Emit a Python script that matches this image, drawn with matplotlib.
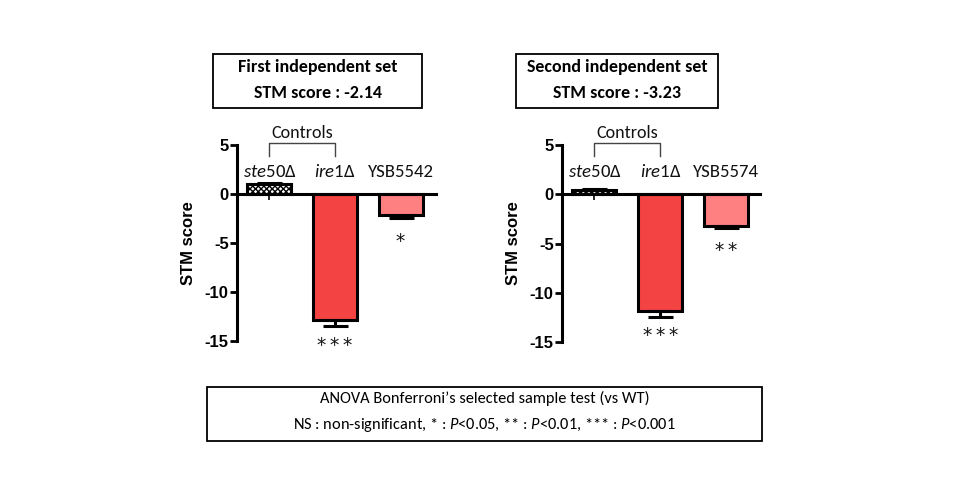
import matplotlib
matplotlib.use("Agg")
import matplotlib.pyplot as plt
from matplotlib import font_manager as fm
from matplotlib.patches import Rectangle

# ---------------- data ----------------
strains_set1 = ["ste50Δ", "ire1Δ", "YSB5542"]
strains_set2 = ["ste50Δ", "ire1Δ", "YSB5574"]
scores_set1 = [1.0, -12.85, -2.14]
scores_set2 = [0.45, -11.85, -3.23]
errors_set1 = [0.12, 0.65, 0.35]
errors_set2 = [0.10, 0.60, 0.22]
stars_set1 = ["", "***", "*"]
stars_set2 = ["", "***", "**"]
yticks = [5, 0, -5, -10, -15]
title_set1 = ["First independent set", "STM score : -2.14"]
title_set2 = ["Second independent set", "STM score : -3.23"]
controls_label = "Controls"
footnote_line1 = "ANOVA Bonferroni\u2019s selected sample test (vs WT)"
footnote_line2 = r"NS : non-significant, * : $\mathit{P}$<0.05, ** : $\mathit{P}$<0.01, *** : $\mathit{P}$<0.001"

# ---------------- fonts ----------------
names = {f.name for f in fm.fontManager.ttflist}
calib = next(n for n in ["Carlito", "Lato", "Open Sans", "DejaVu Sans"] if n in names)
arial = next(n for n in ["Liberation Sans", "Arial", "DejaVu Sans"] if n in names)
plt.rcParams["font.family"] = [calib, "DejaVu Sans"]
plt.rcParams["mathtext.fontset"] = "custom"
plt.rcParams["mathtext.rm"] = calib
plt.rcParams["mathtext.it"] = calib + ":italic"
plt.rcParams["mathtext.bf"] = calib + ":bold"
plt.rcParams["hatch.linewidth"] = 1.0

W, H = 960, 500
fig = plt.figure(figsize=(W / 100, H / 100), dpi=100)
fig.patch.set_facecolor("white")

colors = ["white", "#F44343", "#FF8080"]
star_gap_pt = [0, 6.8, 9.5]


def draw_panel(rect, xlim, strains, scores, errors, stars):
    ax = fig.add_axes(rect)
    ax.set_facecolor("none")
    x = list(range(len(scores)))
    bars = ax.bar(x, scores, width=0.67, color=colors, edgecolor="black",
                  linewidth=2.2, zorder=2)
    bars[0].set_hatch("xxxxxx")
    for xi, s, e in zip(x, scores, errors):
        up = s >= 0
        ax.errorbar([xi], [s], yerr=[[0 if up else e], [e if up else 0]],
                    fmt="none", ecolor="black", elinewidth=2.2, capsize=9,
                    capthick=2.2, zorder=3)
    ax.set_xlim(*xlim)
    ax.set_ylim(-15, 5)
    ax.set_yticks(yticks)
    ax.set_yticklabels([str(t) for t in yticks], fontfamily=arial,
                       fontweight="bold", fontsize=12)
    ax.set_xticks(x)
    ax.set_xticklabels([])
    ax.tick_params(axis="y", direction="out", length=5, width=2, pad=1)
    ax.tick_params(axis="x", direction="out", length=4, width=1.2)
    for sp in ["top", "right"]:
        ax.spines[sp].set_visible(False)
    ax.spines["left"].set_linewidth(2.2)
    ax.spines["bottom"].set_linewidth(2.2)
    ax.spines["bottom"].set_position(("data", 0))
    ax.set_ylabel("STM score", fontfamily=arial, fontweight="bold",
                  fontsize=12, labelpad=6)
    for xi, name in zip(x, strains):
        if name.endswith("Δ"):
            lab = r"$\mathit{" + name[:-1] + "}$Δ"
        else:
            lab = name
        ax.text(xi, 1.75, lab, ha="center", va="baseline", fontsize=13.5,
                color="#111111", zorder=4)
    for xi, s, e, st, gap in zip(x, scores, errors, stars, star_gap_pt):
        if st:
            ax.annotate("\u2009".join(st), xy=(xi, s - e), xytext=(0, -gap),
                        textcoords="offset points", ha="center", va="top",
                        fontsize=13.5, fontfamily="DejaVu Sans",
                        color="#111111", annotation_clip=False)
    ax.plot([0, 0, 1, 1], [3.9, 5.2, 5.2, 3.9], color="#444444", lw=1.0,
            clip_on=False, zorder=4)
    ax.text(0.5, 5.4, controls_label, ha="center", va="bottom",
            fontsize=13, color="#111111")
    return ax


draw_panel([237 / W, 159 / H, 199 / W, 196 / H], (-0.495, 2.54),
           strains_set1, scores_set1, errors_set1, stars_set1)
draw_panel([562 / W, 158 / H, 198 / W, 197 / H], (-0.49, 2.51),
           strains_set2, scores_set2, errors_set2, stars_set2)


def box(x0, y0, x1, y1, lw=1.3):
    r = Rectangle((x0 / W, (H - y1) / H), (x1 - x0) / W, (y1 - y0) / H,
                  transform=fig.transFigure, fill=False, edgecolor="black",
                  linewidth=lw)
    fig.add_artist(r)


box(213, 54, 422, 108)
box(516, 54, 718, 108)
for cx, lines in [(317.5, title_set1), (617, title_set2)]:
    fig.text(cx / W, (H - 72) / H, lines[0], ha="center", va="baseline",
             fontsize=13, fontweight="bold")
    fig.text(cx / W, (H - 98) / H, lines[1], ha="center", va="baseline",
             fontsize=13, fontweight="bold")

box(207, 387, 762, 441)
fig.text(484.5 / W, (H - 403.5) / H, footnote_line1, ha="center",
         va="baseline", fontsize=11.8)
fig.text(484.5 / W, (H - 428.5) / H, footnote_line2, ha="center",
         va="baseline", fontsize=11.8)

fig.savefig("out.png", dpi=100, facecolor="white")
